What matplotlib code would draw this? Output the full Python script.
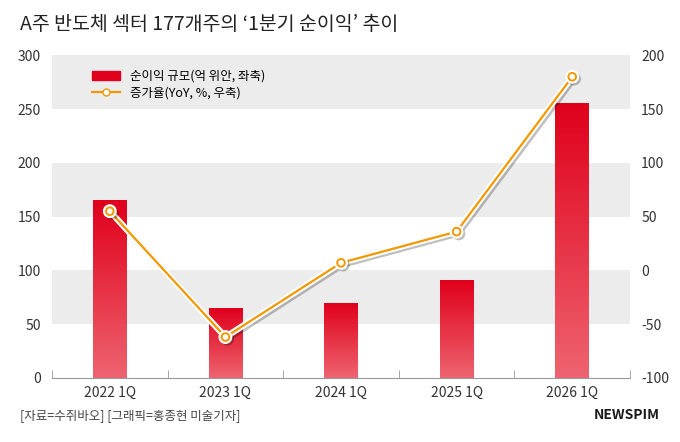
import matplotlib
matplotlib.use("Agg")
import matplotlib.pyplot as plt
import numpy as np
import matplotlib.patheffects as pe

plt.rcParams['font.family'] = ['Noto Sans CJK KR', 'DejaVu Sans']
plt.rcParams['axes.unicode_minus'] = False

categories = ["2022 1Q", "2023 1Q", "2024 1Q", "2025 1Q", "2026 1Q"]
profit = [165, 65, 70, 91, 256]
growth = [55, -62, 7, 36, 180]

fig = plt.figure(figsize=(6.8, 4.42), dpi=100)
ax = fig.add_axes([0.0765, 0.145, 0.85, 0.73])
ax2 = ax.twinx()
ax.set_zorder(1); ax2.set_zorder(2); ax.patch.set_visible(False)

x = np.arange(len(categories))
ax.set_xlim(-0.5, 4.5)
ax.set_ylim(0, 300)
ax2.set_ylim(-100, 200)
for lo in (50, 150, 250):
    ax.axhspan(lo, lo + 50, color='#ececec', zorder=0, lw=0)

bars = ax.bar(x, profit, width=0.29, color='none', zorder=2)
grad = np.linspace(0, 1, 256).reshape(-1, 1)
from matplotlib.colors import LinearSegmentedColormap
cmap = LinearSegmentedColormap.from_list('g', ['#ee6470', '#e0001b'])
for b in bars:
    x0, y0, w, h = b.get_x(), b.get_y(), b.get_width(), b.get_height()
    im = ax.imshow(grad, extent=[x0, x0 + w, 0, h], origin='lower', cmap=cmap,
                   aspect='auto', zorder=2)
    im.set_clip_path(b)
ax.set_xlim(-0.5, 4.5); ax.set_ylim(0, 300)

ax2.plot(x, growth, color='#f39800', lw=1.6, marker='o', ms=5.5, mfc='white',
         mec='#f39800', mew=1.4, zorder=5,
         path_effects=[pe.SimpleLineShadow(offset=(1.5, -1.5), alpha=0.25, linewidth=4),
                       pe.Stroke(linewidth=4.5, foreground='white'), pe.Normal()])

ax.set_xticks(x)
ax.set_xticklabels(categories)
ax.set_xticks(np.arange(-0.5, 5, 1), minor=True)
ax.tick_params(axis='x', which='major', length=0, pad=6, labelsize=10, colors='#333')
ax.tick_params(axis='x', which='minor', length=6, color='#999', direction='in')
ax.set_yticks(range(0, 301, 50))
ax2.set_yticks(range(-100, 201, 50))
ax.tick_params(axis='y', length=0, labelsize=10, colors='#333', pad=8)
ax2.tick_params(axis='y', length=0, labelsize=10, colors='#333', pad=8)
for a in (ax, ax2):
    for s in a.spines.values():
        s.set_visible(False)
ax.spines['bottom'].set_visible(True)
ax.spines['bottom'].set_color('#999')

from matplotlib.patches import Rectangle
from matplotlib.lines import Line2D
h1 = Rectangle((0, 0), 1, 1, color='#e0001b')
h2 = Line2D([], [], color='#f39800', lw=1.6, marker='o', ms=5, mfc='white', mec='#f39800')
ax2.legend([h1, h2], ["순이익 규모(억 위안, 좌축)", "증가율(YoY, %, 우축)"],
           loc='upper left', bbox_to_anchor=(0.05, 0.99), frameon=False,
           fontsize=9, handlelength=2.2, labelspacing=0.3)

fig.text(0.03, 0.945, "A주 반도체 섹터 177개주의 ‘1분기 순이익’ 추이", fontsize=14,
         color='#222', va='center')
fig.text(0.03, 0.06, "[자료=수쥐바오] [그래픽=홍종현 미술기자]", fontsize=9, color='#444', va='center')
fig.text(0.97, 0.06, "NEWSPIM", fontsize=10, fontweight='bold', color='#1a1a1a',
         ha='right', va='center')

fig.savefig("out.png", dpi=100)
